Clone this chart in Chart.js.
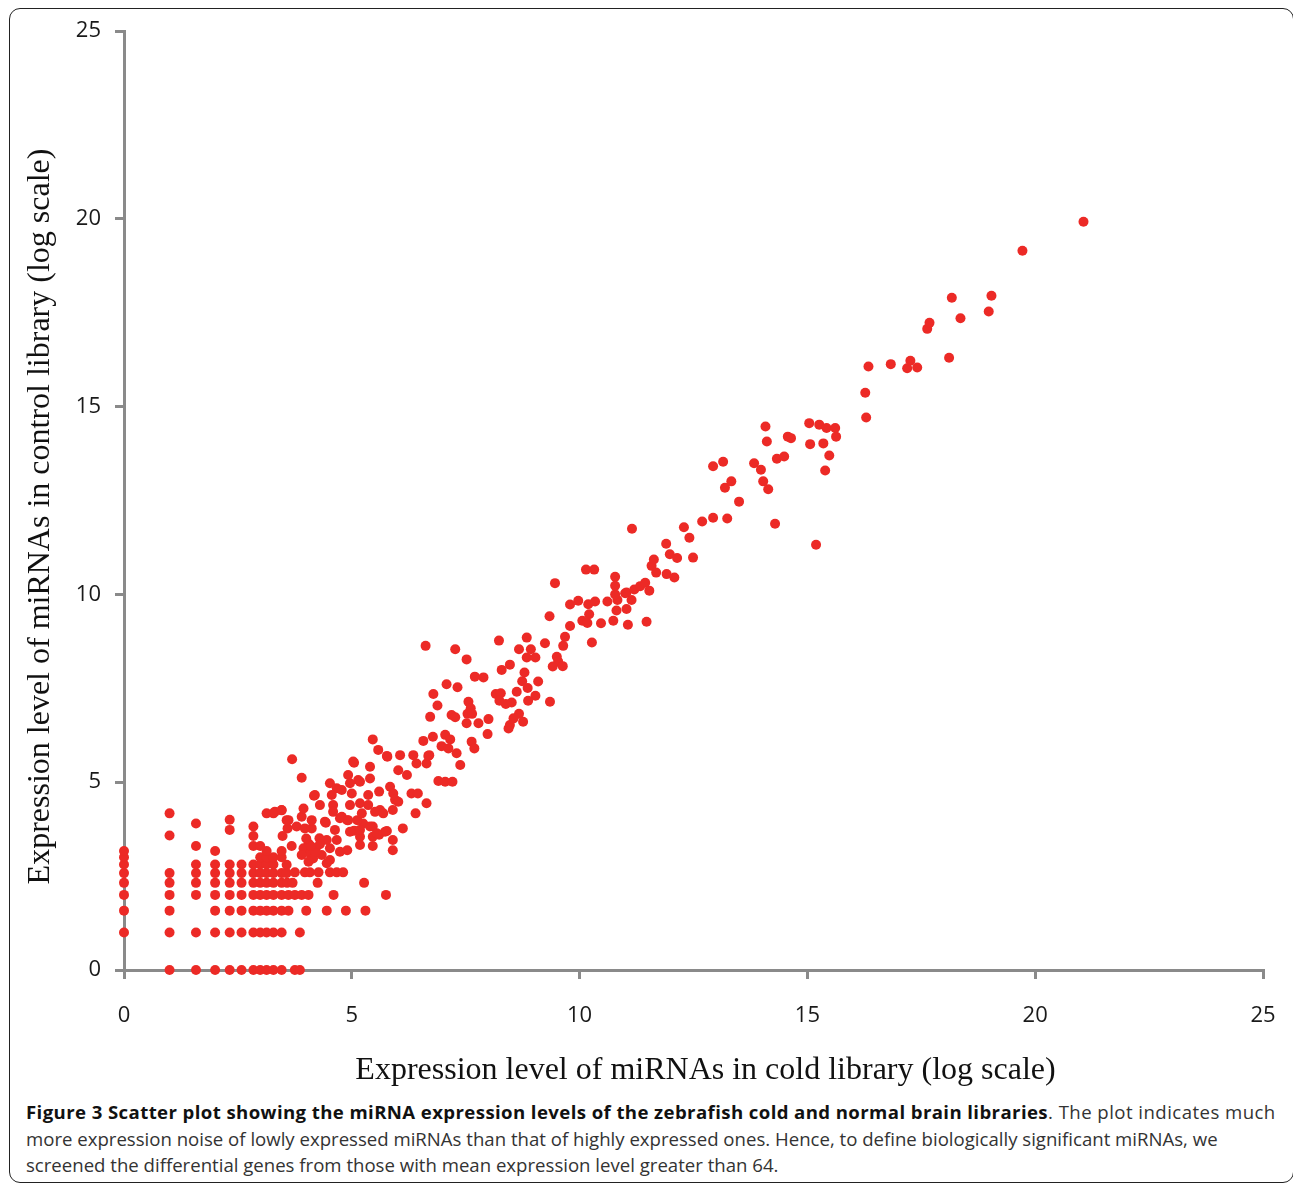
<!DOCTYPE html>
<html><head><meta charset="utf-8">
<script src="https://cdn.jsdelivr.net/npm/chart.js@4.4.1/dist/chart.umd.min.js"></script>
<style>
html,body{margin:0;padding:0;background:#fff;}
#wrap{position:relative;width:1293px;height:1184px;overflow:hidden;}
#frame{position:absolute;left:9px;top:8px;width:1285px;height:1175px;box-sizing:border-box;border:1.5px solid #222;border-radius:11px;}
#c{position:absolute;left:0;top:0;}
#cap{position:absolute;left:26px;top:1099px;font-family:"Open Sans";font-size:18.6px;line-height:26.5px;color:#333;white-space:nowrap;}
#cap b{color:#111;font-weight:700;letter-spacing:0.4px;}
#cap .w{letter-spacing:0.45px;}
</style></head><body>
<div id="wrap">
<div id="frame"></div>
<canvas id="c" width="1293" height="1095"></canvas>
<div id="cap"><b>Figure 3 Scatter plot showing the miRNA expression levels of the zebrafish cold and normal brain libraries</b><span class="w">. The plot indicates much</span><br>more expression noise of lowly expressed miRNAs than that of highly expressed ones. Hence, to define biologically significant miRNAs, we<br>screened the differential genes from those with mean expression level greater than 64.</div>
</div>
<script>
// [cold library level, control library level] (log2 scale)
const lowCountPoints = [
[1,0],[1.58,0],[2,0],[2.32,0],[2.58,0],[2.84,0],[2.99,0],[3.13,0],[3.28,0],[3.46,0],[3.75,0],[3.86,0],
[0,1],[1,1],[1.58,1],[2,1],[2.32,1],[2.58,1],[2.84,1],[2.99,1],[3.13,1],[3.28,1],[3.46,1],[3.86,1],
[0,1.58],[1,1.58],[2,1.58],[2.32,1.58],[2.58,1.58],[2.84,1.58],[2.99,1.58],[3.13,1.58],[3.28,1.58],[3.46,1.58],[3.61,1.58],[4.0,1.58],[4.45,1.58],[4.87,1.58],[5.3,1.58],
[0,2],[1,2],[1.58,2],[2,2],[2.32,2],[2.58,2],[2.84,2],[2.99,2],[3.13,2],[3.28,2],[3.46,2],[3.61,2],[3.75,2],[3.9,2],[4.05,2],[4.6,2],[5.75,2],
[0,2.32],[1,2.32],[1.58,2.32],[2,2.32],[2.32,2.32],[2.58,2.32],[2.84,2.32],[2.99,2.32],[3.13,2.32],[3.28,2.32],[3.46,2.32],[3.58,2.32],[3.7,2.32],[4.25,2.32],[5.27,2.32],
[0,2.58],[1,2.58],[1.58,2.58],[2,2.58],[2.32,2.58],[2.58,2.58],[2.84,2.58],[2.99,2.58],[3.13,2.58],[3.28,2.58],[3.46,2.58],[3.57,2.58],[3.75,2.6],[3.97,2.6],[4.08,2.6],[4.27,2.6],[4.52,2.6],[4.67,2.6],[4.81,2.6],
[0,2.81],[1.58,2.81],[2,2.81],[2.32,2.81],[2.58,2.81],[2.84,2.81],[2.99,2.81],[3.13,2.81],[3.28,2.81],[3.57,2.8],
[0,3],[2.99,3],[3.13,3],[3.28,3],[3.46,3],
[0,3.17],[2,3.17],[3.13,3.17],[3.46,3.17],
[1,3.58],[1,4.17],[1.58,3.9],[1.58,3.3],[2.32,4.0],[2.32,3.73],[2.84,3.82],[2.84,3.57],[2.84,3.3],[2.99,3.3],
[3.13,4.17],[3.28,4.17],[3.46,4.25],[3.61,3.99],[3.59,3.77],[3.48,3.57],[3.68,3.3]
];
const denseCluster = [
[3.79,3.82],[3.9,4.08],[3.97,3.77],[4.12,3.77],[4.43,3.92],[4.74,4.04],[4.9,3.99],[5.05,3.71],[5.25,3.9],[5.46,3.82],
[5.77,3.7],[6.12,3.77],[5.46,3.55],[5.6,3.6],[5.9,3.46],[5.9,3.19],[5.18,3.55],[5.18,3.33],[5.46,3.3],[4.9,3.19],
[4.67,3.46],[4.52,3.24],[4.45,3.46],[4.74,3.15],[4.52,2.93],[4.45,2.84],[4.29,3.51],[4.05,3.37],[3.94,3.24],[4.08,3.11],
[4.15,2.97],[4.05,2.88],[4.21,3.24],[4.34,3.06],[3.9,3.06],[4.2,3.15],[4.1,3.3],[4.3,3.35],[4.0,3.5],
[4.19,4.66],[4.3,4.39],[4.59,4.39],[4.96,4.39],[5.18,4.44],[5.36,4.39],[5.62,4.26],[5.9,4.26],[4.59,4.21],[4.78,4.08],
[4.92,3.99],[5.12,3.99],[5.22,4.17],[5.51,4.21],[5.69,4.17],[3.94,4.3],[3.57,3.99],[3.31,4.21],[3.46,4.26],[4.12,3.99],
[4.41,3.95],[5.4,3.82],[5.73,3.68],[5.18,3.73],[4.96,3.68],[4.63,3.73],[5.55,3.64],
[3.9,5.12],[3.69,5.61],[4.17,4.64],[4.52,4.97],[4.67,4.84],[4.78,4.79],[5.0,4.7],[4.56,4.66],[5.05,5.52],[5.14,5.06],
[5.03,5.55],[4.92,5.19],[4.96,4.97],[5.18,5.01],[5.36,4.66],[5.4,5.41],[5.4,5.1],[5.46,6.14],[5.58,5.86],[5.78,5.68],
[5.84,4.88],[5.91,4.7],[5.95,4.53],[6.02,4.48],[5.6,4.75],[6.31,4.7],[6.45,4.7],[6.64,4.44],[6.4,4.17],[6.21,5.19],
[6.02,5.32],[6.42,5.5],[6.64,5.5],[6.68,5.7],[6.06,5.72],[6.35,5.72],[5.77,5.7],[7.38,5.46],[6.9,5.03],[7.05,5.01],[7.21,5.01]
];
const midBand = [
[6.57,6.1],[6.78,6.21],[7.05,6.26],[7.16,6.14],[6.97,5.96],[7.12,5.9],[7.3,5.77],[7.63,6.08],[7.69,5.9],[6.7,5.72],
[6.62,8.63],[7.27,8.54],[7.52,8.27],[7.08,7.61],[7.32,7.53],[6.79,7.35],[6.88,7.04],[6.72,6.74],[7.19,6.79],[7.27,6.73],
[7.56,7.14],[7.61,6.97],[7.54,6.82],[7.64,6.82],[7.52,6.57],[7.78,6.57],[8.0,6.68],[7.98,6.28],[8.16,7.35],[8.27,7.37],
[8.24,7.17],[8.38,7.08],[8.51,7.12],[8.62,7.41],[8.79,7.92],[8.74,7.69],[8.86,7.51],[9.09,7.68],[9.03,7.3],[8.87,7.17],
[9.35,7.14],[8.67,6.82],[8.55,6.7],[8.76,6.61],[8.47,6.52],[8.44,6.43],
[7.7,7.81],[7.89,7.79],[8.29,7.99],[8.47,8.13],[8.23,8.77],[8.84,8.85],[8.67,8.54],[8.93,8.54],[8.84,8.32],[9.03,8.32],
[9.5,8.34],[9.53,8.21],[9.41,8.08],[9.63,8.09],[9.64,8.63],[9.24,8.7],[9.68,8.87],[9.34,9.42],[9.79,9.16],[10.27,8.72],
[10.06,9.3],[10.17,9.24],[10.47,9.23],[10.74,9.3],[11.06,9.19],[11.47,9.27],[10.21,9.47],[10.81,9.57],[11.03,9.61],[9.46,10.3],
[9.97,9.83],[9.79,9.73],[10.19,9.74],[10.34,9.81],[10.61,9.81],[10.83,9.85],[10.78,10.0],[11.0,10.03],[11.14,9.85],[11.03,10.05],
[11.2,10.13],[11.33,10.22],[11.44,10.31],[11.53,10.1],[10.14,10.66],[10.32,10.66],[10.78,10.47],[10.78,10.23],[11.58,10.76],[11.63,10.93],
[11.68,10.58],[11.91,10.54],[12.08,10.45],[11.98,11.07],[11.9,11.35],[12.14,10.97],[12.49,10.98],[12.41,11.51],[12.29,11.79],[11.15,11.75]
];
const highPoints = [
[12.69,11.94],[12.93,12.04],[13.24,12.02],[13.5,12.47],[13.19,12.84],[13.33,13.01],[12.93,13.41],[13.15,13.53],[13.83,13.49],[13.98,13.32],
[14.03,13.01],[14.14,12.8],[14.29,11.88],[14.33,13.61],[14.49,13.67],[14.08,14.47],[14.11,14.07],[14.57,14.2],[14.64,14.16],[15.04,14.56],
[15.26,14.52],[15.42,14.43],[15.61,14.43],[15.63,14.2],[15.06,14.0],[15.35,14.02],[15.48,13.7],[15.39,13.3],[15.19,11.32],[16.29,14.71],
[16.27,15.37],[16.34,16.07],[16.83,16.13],[17.19,16.02],[17.26,16.22],[17.41,16.04],[18.11,16.3],[17.63,17.07],[17.68,17.23],[18.36,17.35],
[18.17,17.9],[18.98,17.53],[19.04,17.95],[19.72,19.15],[21.06,19.92]
];
const axisTicks = [0,5,10,15,20,25];
const xTitle = 'Expression level of miRNAs in cold library (log scale)';
const yTitle = 'Expression level of miRNAs in control library (log scale)';

const allPoints = [].concat(lowCountPoints, denseCluster, midBand, highPoints).map(p => ({x:p[0], y:p[1]}));
const axisColor = '#8a8a8a';
function makeAxis(title, isX){
  return {
    type:'linear', min:axisTicks[0], max:axisTicks[axisTicks.length-1],
    afterBuildTicks: s => { s.ticks = axisTicks.map(v => ({value:v})); },
    ticks:{color:'#1a1a1a', font:{family:'Open Sans', size:22}, padding: isX ? 24 : 14},
    grid:{display:true, drawOnChartArea:false, drawTicks:true, tickLength:9, color:axisColor, lineWidth:3},
    border:{display:true, color:axisColor, width:3},
    // leading/trailing spaces nudge the centred title slightly, as in the original figure
    title:{display:true, text: isX ? '   ' + title : title + '    ', color:'#111', font:{family:'Liberation Serif', size:32},
           padding: isX ? {top:0,bottom:5} : {top:21,bottom:0}},
    afterFit: s => {
      if (isX) s.height = 125; else s.width = 124;
      s.paddingLeft = 0; s.paddingRight = 0; s.paddingTop = 0; s.paddingBottom = 0;
    }
  };
}
new Chart(document.getElementById('c'), {
  type:'scatter',
  data:{datasets:[{data:allPoints, backgroundColor:'#ec2a26', borderWidth:0, pointRadius:5, pointHoverRadius:5, clip:false}]},
  options:{
    responsive:false, animation:false, events:[],
    layout:{padding:{left:0, right:30, top:31, bottom:0}},
    plugins:{legend:{display:false}, tooltip:{enabled:false}},
    scales:{x:makeAxis(xTitle, true), y:makeAxis(yTitle, false)}
  }
});
</script>
</body></html>
